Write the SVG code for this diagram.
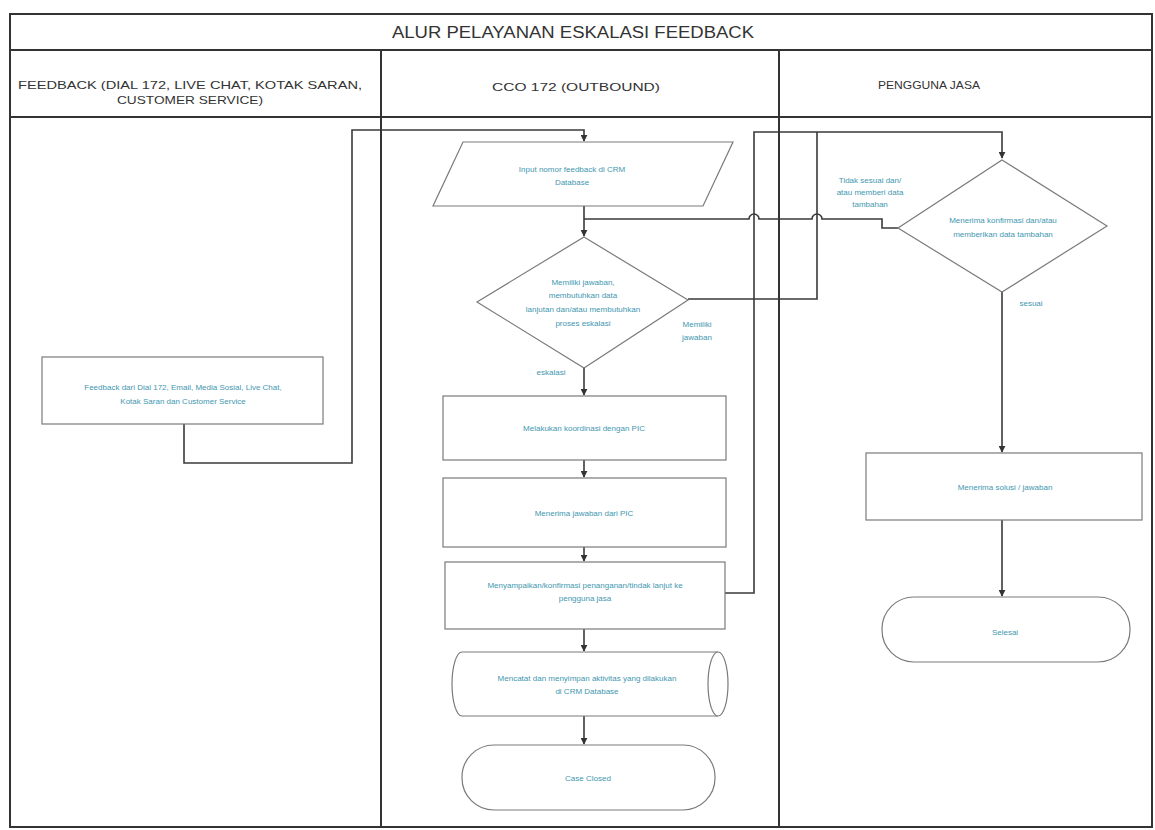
<svg xmlns="http://www.w3.org/2000/svg" width="1155" height="830" viewBox="0 0 1155 830">
<defs>
<marker id="ah" viewBox="0 0 10 10" refX="9" refY="5" markerWidth="7" markerHeight="7" orient="auto" markerUnits="userSpaceOnUse"><path d="M0,0 L10,5 L0,10 Z" fill="#333"/></marker>
<style>
.frame{fill:none;stroke:#333;stroke-width:2}
.hdr{font-family:"Liberation Sans Narrow","Liberation Sans",sans-serif;fill:#333;text-anchor:middle}
.node{fill:#fff;stroke:#7a7a7a;stroke-width:1.2}
.t{font-family:"Liberation Sans",Arial,sans-serif;font-size:8px;fill:#3f97b0;text-anchor:middle}
.c{fill:none;stroke:#3a3a3a;stroke-width:1.6}
</style>
</defs>
<rect width="1155" height="830" fill="#fff"/>
<g id="frame">
<rect class="frame" x="10" y="14" width="1142" height="813"/>
<line class="frame" x1="10" y1="50" x2="1152" y2="50"/>
<line class="frame" x1="10" y1="117" x2="1152" y2="117"/>
<line class="frame" x1="381" y1="50" x2="381" y2="827"/>
<line class="frame" x1="779" y1="50" x2="779" y2="827"/>
<text class="hdr" x="573" y="38" font-size="16" textLength="362" lengthAdjust="spacingAndGlyphs">ALUR PELAYANAN ESKALASI FEEDBACK</text>
<text class="hdr" x="190" y="89" font-size="11.5" textLength="344" lengthAdjust="spacingAndGlyphs">FEEDBACK (DIAL 172, LIVE CHAT, KOTAK SARAN,</text>
<text class="hdr" x="190" y="104" font-size="11.5" textLength="146" lengthAdjust="spacingAndGlyphs">CUSTOMER SERVICE)</text>
<text class="hdr" x="576" y="91" font-size="11.5" textLength="168" lengthAdjust="spacingAndGlyphs">CCO 172 (OUTBOUND)</text>
<text class="hdr" x="929" y="89" font-size="11.5" textLength="102" lengthAdjust="spacingAndGlyphs">PENGGUNA JASA</text>
</g>
<g id="connectors">
<path class="c" d="M184,424 V463 H352 V130 H584 V141" marker-end="url(#ah)"/>
<path class="c" d="M584,206 V236" marker-end="url(#ah)"/>
<path class="c" d="M898,228 H882 V219 H822 A5,5 0 0 0 812,219 H759 A5,5 0 0 0 749,219 H584"/>
<path class="c" d="M688,299 H817 V132"/>
<path class="c" d="M725,593 H754 V132 H1002 V158" marker-end="url(#ah)"/>
<path class="c" d="M584,368 V395" marker-end="url(#ah)"/>
<path class="c" d="M584,460 V477" marker-end="url(#ah)"/>
<path class="c" d="M584,547 V561" marker-end="url(#ah)"/>
<path class="c" d="M584,629 V651" marker-end="url(#ah)"/>
<path class="c" d="M584,716 V744" marker-end="url(#ah)"/>
<path class="c" d="M1002,292 V452" marker-end="url(#ah)"/>
<path class="c" d="M1002,520 V596" marker-end="url(#ah)"/>
<text class="t" x="697" y="327">Memiliki</text>
<text class="t" x="697" y="340">jawaban</text>
<text class="t" x="551" y="375">eskalasi</text>
<text class="t" x="870" y="183">Tidak sesuai dan/</text>
<text class="t" x="870" y="195">atau memberi data</text>
<text class="t" x="870" y="207">tambahan</text>
<text class="t" x="1031" y="306">sesuai</text>
</g>
<g id="n-feedback">
<rect class="node" x="42" y="357" width="281" height="67"/>
<text class="t" x="183" y="390">Feedback dari Dial 172, Email, Media Sosial, Live Chat,</text>
<text class="t" x="183" y="404">Kotak Saran dan Customer Service</text>
</g>
<g id="n-input">
<path class="node" d="M463,142 H733 L703,206 H433 Z"/>
<text class="t" x="572" y="172">Input nomor feedback di CRM</text>
<text class="t" x="572" y="185">Database</text>
</g>
<g id="n-decision1">
<path class="node" d="M584,237 L688,300 L584,368 L477,302 Z"/>
<text class="t" x="583" y="285">Memiliki jawaban,</text>
<text class="t" x="583" y="298">membutuhkan data</text>
<text class="t" x="583" y="312">lanjutan dan/atau membutuhkan</text>
<text class="t" x="583" y="326">proses eskalasi</text>
</g>
<g id="n-koordinasi">
<rect class="node" x="443" y="396" width="283" height="64"/>
<text class="t" x="584" y="431">Melakukan koordinasi dengan PIC</text>
</g>
<g id="n-terima">
<rect class="node" x="443" y="478" width="283" height="69"/>
<text class="t" x="584" y="516">Menerima jawaban dari PIC</text>
</g>
<g id="n-sampaikan">
<rect class="node" x="445" y="562" width="280" height="67"/>
<text class="t" x="585" y="588">Menyampaikan/konfirmasi penanganan/tindak lanjut ke</text>
<text class="t" x="585" y="601">pengguna jasa</text>
</g>
<g id="n-catat">
<path class="node" d="M462,652 H718 A10,32 0 0 1 718,716 H462 A10,32 0 0 1 462,652 Z"/>
<path class="node" d="M718,652 A10,32 0 0 0 718,716"/>
<text class="t" x="587" y="681">Mencatat dan menyimpan aktivitas yang dilakukan</text>
<text class="t" x="587" y="694">di CRM Database</text>
</g>
<g id="n-closed">
<rect class="node" x="462" y="745" width="253" height="65" rx="32" ry="32"/>
<text class="t" x="588" y="781">Case Closed</text>
</g>
<g id="n-decision2">
<path class="node" d="M1002,160 L1107,226 L1002,292 L898,228 Z"/>
<text class="t" x="1003" y="223">Menerima konfirmasi dan/atau</text>
<text class="t" x="1003" y="237">memberikan data tambahan</text>
</g>
<g id="n-solusi">
<rect class="node" x="866" y="453" width="276" height="67"/>
<text class="t" x="1005" y="490">Menerima solusi / jawaban</text>
</g>
<g id="n-selesai">
<rect class="node" x="882" y="597" width="248" height="65" rx="32" ry="32"/>
<text class="t" x="1005" y="635">Selesai</text>
</g>
</svg>
